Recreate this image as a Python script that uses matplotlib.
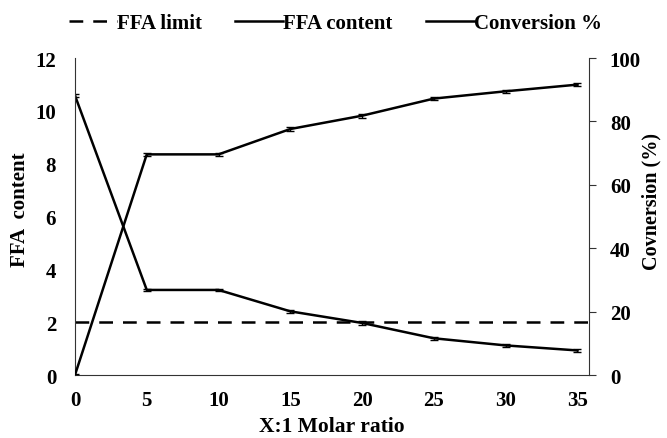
import matplotlib.pyplot as plt
import numpy as np

plt.rcParams["font.family"] = ["Liberation Serif", "DejaVu Serif"]
plt.rcParams["font.weight"] = "bold"

ratio = [0, 5, 10, 15, 20, 25, 30, 35]
ffa_content = [10.58, 3.22, 3.22, 2.41, 1.97, 1.39, 1.12, 0.93]
ffa_err = [0.05, 0.05, 0.05, 0.05, 0.06, 0.05, 0.05, 0.05]
conversion = [0.0, 69.6, 69.6, 77.6, 81.8, 87.2, 89.5, 91.6]
conv_err = [0.3, 0.4, 0.4, 0.5, 0.6, 0.5, 0.5, 0.4]
ffa_limit = 2.0

fig = plt.figure(figsize=(6.67, 4.39), dpi=100)
ax = fig.add_axes([0.1124, 0.1435, 0.883 - 0.1124, 0.8656 - 0.1435])
ax2 = ax.twinx()

lim_line, = ax.plot([0, 35.8], [ffa_limit, ffa_limit], color="black",
                    linestyle=(0, (5.5, 4)), linewidth=1.8)
ffa_line = ax.errorbar(ratio, ffa_content, yerr=ffa_err, color="black",
                       linewidth=1.8, capsize=3, elinewidth=1, capthick=1)
conv_line = ax2.errorbar(ratio, conversion, yerr=conv_err, color="black",
                         linewidth=1.8, capsize=3, elinewidth=1, capthick=1)

ax.set_xlim(0, 35.8)
ax.set_ylim(0, 12)
ax2.set_ylim(0, 100)
ax.set_xticks(range(0, 36, 5))
ax.set_yticks(range(0, 13, 2))
ax2.set_yticks(range(0, 101, 20))

for a in (ax, ax2):
    a.spines["top"].set_visible(False)
    a.tick_params(labelsize=15)
    for lab in a.get_xticklabels() + a.get_yticklabels():
        lab.set_fontweight("bold")
ax.spines["right"].set_visible(False)
ax.spines["left"].set_color("#333333")
ax.spines["bottom"].set_color("#333333")
ax2.spines["right"].set_color("#333333")
ax2.spines["left"].set_visible(False)
ax2.spines["bottom"].set_visible(False)
ax.tick_params(axis="y", length=0, pad=13.5)
ax.tick_params(axis="x", length=0, pad=11)
ax2.tick_params(axis="y", length=5, color="#333333", pad=10)

ax.set_xlabel("X:1 Molar ratio", fontsize=15.5, fontweight="bold", labelpad=4)
ax.set_ylabel("FFA  content", fontsize=15, fontweight="bold")
ax2.set_ylabel("Covnersion (%)", fontsize=14.5, fontweight="bold")
ax.yaxis.set_label_coords(-0.088, 0.525)
ax2.yaxis.set_label_coords(1.103, 0.55)

fig.legend([lim_line, ffa_line.lines[0], conv_line.lines[0]],
           ["FFA limit", "FFA content", "Conversion %"],
           loc="upper center", bbox_to_anchor=(0.503, 1.01), ncol=3, frameon=False,
           prop={"size": 15, "weight": "bold"}, handlelength=2.3,
           handletextpad=0.0, columnspacing=1.6)

fig.savefig("out.png", dpi=100)
